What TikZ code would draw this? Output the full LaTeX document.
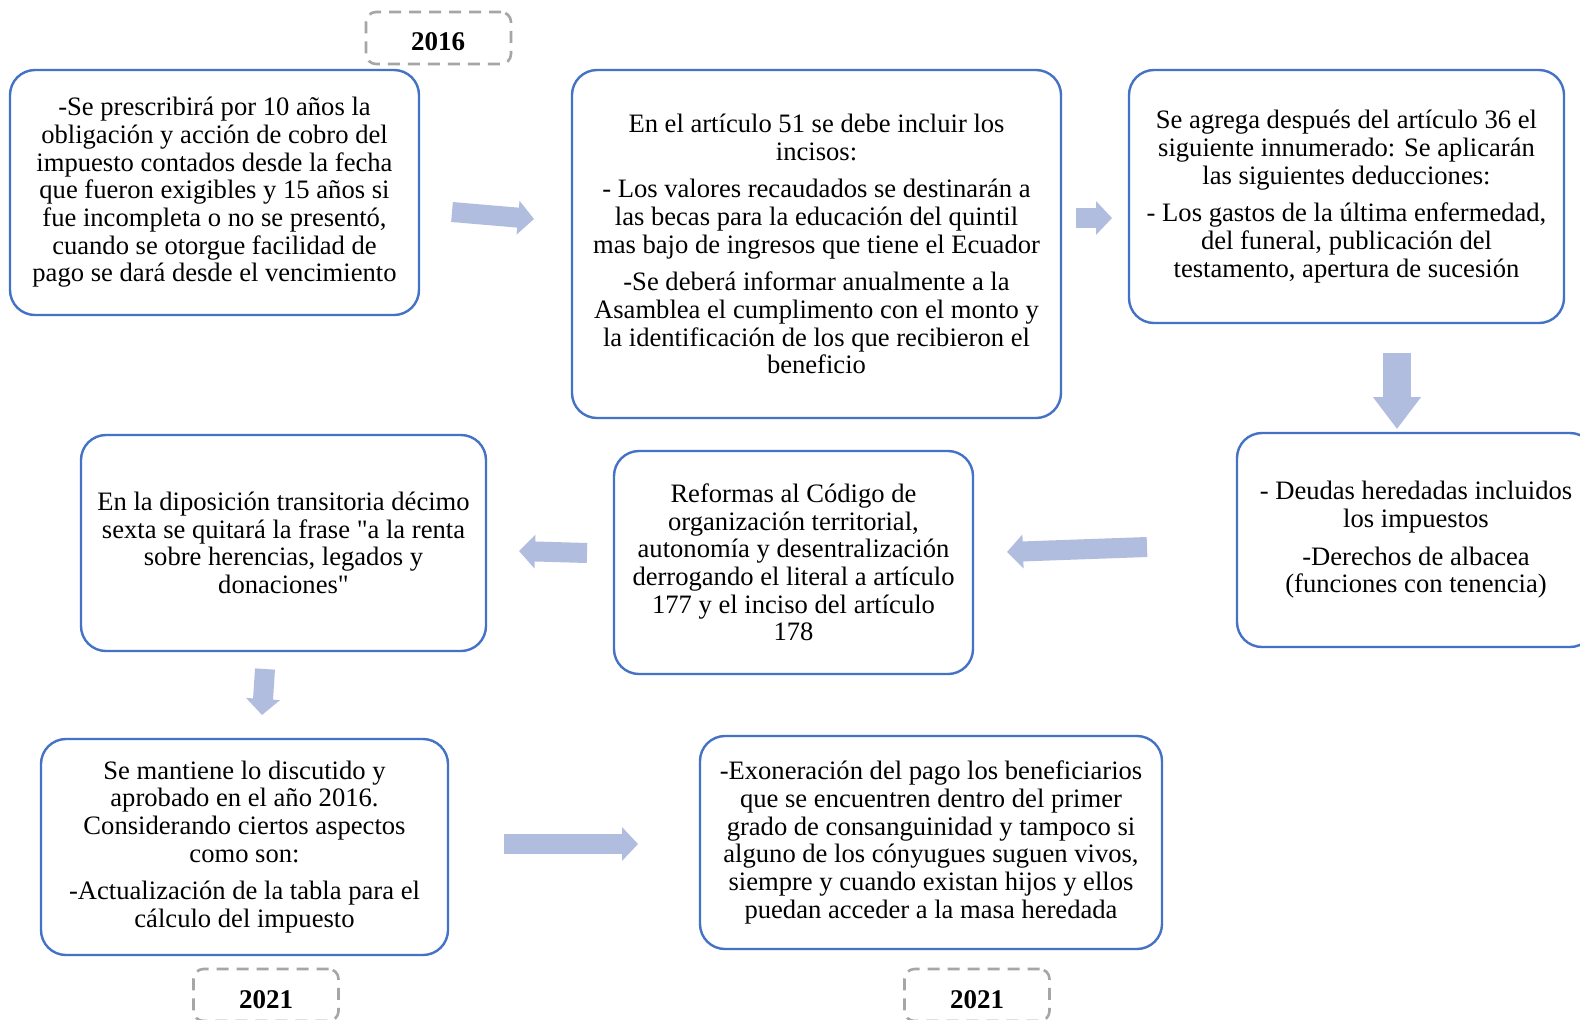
\documentclass[tikz,border=0pt]{standalone}
\usepackage{fontspec}
\setmainfont{Liberation Serif}[Ligatures=TeXOff]
\usetikzlibrary{arrows.meta}
\definecolor{boxblue}{RGB}{68,114,196}
\definecolor{arrowc}{RGB}{176,189,222}
\definecolor{dashgray}{RGB}{166,166,166}
\tikzset{
  infobox/.style={draw=boxblue, line width=1.2pt, rounded corners=12.5pt, align=center, inner sep=0pt,
    font=\fontsize{13.3}{13.85}\selectfont},
  yearbox/.style={draw=dashgray, line width=1.3pt, dash pattern=on 6pt off 4pt, rounded corners=5pt,
    minimum width=72.5pt, minimum height=26pt, inner sep=0pt},
  yeartext/.style={font=\fontsize{13.5}{14}\selectfont\bfseries, inner sep=0pt},
  blockarrow/.style={draw=arrowc, line width=10pt, -{Triangle[length=8pt,width=16.5pt]}},
  bigblockarrow/.style={draw=arrowc, line width=14pt, -{Triangle[length=16pt,width=23pt]}},
}
\begin{document}
\begin{tikzpicture}[x=0.5pt,y=-0.5pt]
\clip (0,0) rectangle (1580,1019);
\fill[white] (0,0) rectangle (1580,1019);

\node[infobox, minimum width=204.5pt, minimum height=122.5pt] (b1) at (214.5,192.5)
 {-Se prescribirá por 10 años la\\obligación y acción de cobro del\\impuesto contados desde la fecha\\que fueron exigibles y 15 años si\\fue incompleta o no se presentó,\\cuando se otorgue facilidad de\\pago se dará desde el vencimiento};

\node[infobox, minimum width=244.5pt, minimum height=174pt] (b2) at (816.5,244)
 {En el artículo 51 se debe incluir los\\incisos:\\[5pt]- Los valores recaudados se destinarán a\\las becas para la educación del quintil\\mas bajo de ingresos que tiene el Ecuador\\[5pt]-Se deberá informar anualmente a la\\Asamblea el cumplimento con el monto y\\la identificación de los que recibieron el\\beneficio};

\node[infobox, minimum width=217.5pt, minimum height=126.5pt] (b3) at (1346.5,196.5)
 {Se agrega después del artículo 36 el\\siguiente innumerado: Se aplicarán\\las siguientes deducciones:\\[5pt]- Los gastos de la última enfermedad,\\del funeral, publicación del\\testamento, apertura de sucesión};

\node[infobox, minimum width=179pt, minimum height=107pt] (b4) at (1416,540)
 {- Deudas heredadas incluidos\\los impuestos\\[5pt]-Derechos de albacea\\(funciones con tenencia)};

\node[infobox, minimum width=179.5pt, minimum height=111.5pt] (b5) at (793.5,562.5)
 {Reformas al Código de\\organización territorial,\\autonomía y desentralización\\derrogando el literal a artículo\\177 y el inciso del artículo\\178};

\node[infobox, minimum width=202.5pt, minimum height=108pt] (b6) at (283.5,543)
 {En la diposición transitoria décimo\\sexta se quitará la frase "a la renta\\sobre herencias, legados y\\donaciones"};

\node[infobox, minimum width=203.5pt, minimum height=108pt] (b7) at (244.5,847)
 {Se mantiene lo discutido y\\aprobado en el año 2016.\\Considerando ciertos aspectos\\como son:\\[5pt]-Actualización de la tabla para el\\cálculo del impuesto};

\node[infobox, minimum width=231pt, minimum height=106.5pt] (b8) at (931,842.5)
 {-Exoneración del pago los beneficiarios\\que se encuentren dentro del primer\\grado de consanguinidad y tampoco si\\alguno de los cónyugues suguen vivos,\\siempre y cuando existan hijos y ellos\\puedan acceder a la masa heredada};

\node[yearbox] (y1) at (438.5,38) {};
\node[yearbox] (y2) at (266,995) {};
\node[yearbox] (y3) at (977,995) {};
\node[yeartext] (y1t) at (438,42) {2016};
\node[yeartext] (y2t) at (266,1000) {2021};
\node[yeartext] (y3t) at (977,1000) {2021};

\coordinate (a1s) at (452,212);
\coordinate (a1e) at (534,219);
\coordinate (a2s) at (1076,218);
\coordinate (a2e) at (1112,218);
\coordinate (a3s) at (1397,353);
\coordinate (a3e) at (1397,429);
\coordinate (a4s) at (1147,547);
\coordinate (a4e) at (1007,552);
\coordinate (a5s) at (587,553);
\coordinate (a5e) at (519,551);
\coordinate (a6s) at (265,669);
\coordinate (a6e) at (262,715);
\coordinate (a7s) at (504,844);
\coordinate (a7e) at (638,844);

\draw[blockarrow] (a1s) -- (a1e);
\draw[blockarrow] (a2s) -- (a2e);
\draw[bigblockarrow] (a3s) -- (a3e);
\draw[blockarrow] (a4s) -- (a4e);
\draw[blockarrow] (a5s) -- (a5e);
\draw[blockarrow] (a6s) -- (a6e);
\draw[blockarrow] (a7s) -- (a7e);
\end{tikzpicture}
\end{document}
